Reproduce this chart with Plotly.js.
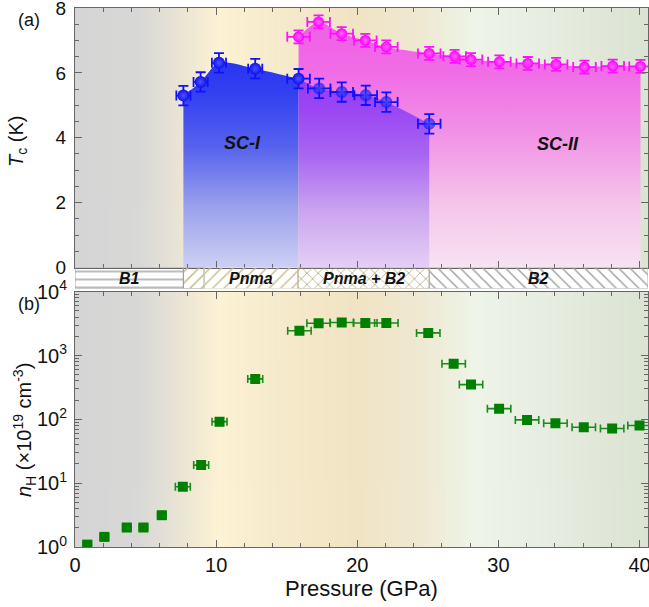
<!DOCTYPE html>
<html><head><meta charset="utf-8">
<script src="https://cdn.plot.ly/plotly-3.0.1.min.js"></script>
<style>html,body{margin:0;padding:0;background:#fff}#chart{width:649px;height:607px}</style>
</head><body><div id="chart"></div>
<script>
// ---- Panel (a): Tc vs pressure ----
const sc1P    = [7.68, 8.9, 10.2, 12.77, 15.84, 17.3, 18.9, 20.6, 22.06, 25.1];
const sc1Tc   = [5.3, 5.72, 6.31, 6.13, 5.82, 5.52, 5.41, 5.31, 5.1, 4.43];
const sc1PErr = [0.5, 0.5, 0.5, 0.5, 0.8, 0.8, 0.8, 0.8, 0.8, 0.8];
const sc1TErr = [0.3, 0.3, 0.3, 0.3, 0.3, 0.3, 0.3, 0.3, 0.3, 0.3];

const sc2P    = [15.84, 17.26, 18.9, 20.57, 22.06, 25.1, 26.9, 28.06, 30.07, 32.08, 34.09, 36.1, 38.1, 40.07];
const sc2Tc   = [7.11, 7.57, 7.21, 7.0, 6.8, 6.6, 6.51, 6.41, 6.34, 6.29, 6.26, 6.18, 6.21, 6.2];
const sc2PErr = [0.8, 0.8, 0.8, 0.8, 0.8, 0.8, 0.8, 0.8, 0.8, 0.8, 0.8, 0.8, 0.8, 0.8];
const sc2TErr = [0.2, 0.2, 0.2, 0.2, 0.2, 0.2, 0.2, 0.2, 0.2, 0.2, 0.2, 0.2, 0.2, 0.2];

// ---- Panel (b): Hall carrier density ----
const nhP    = [0.87, 2.08, 3.67, 4.85, 6.15, 7.64, 8.94, 10.24, 12.77, 15.9, 17.26, 18.9, 20.57, 22.06, 25.03, 26.83, 28.06, 30.05, 32.03, 34.04, 36.05, 38.06, 40.0];
const nhVal  = [1.09, 1.44, 2.02, 2.02, 3.15, 8.8, 19.2, 92, 430, 2450, 3200, 3300, 3230, 3230, 2260, 745, 350, 147, 98, 87, 75, 72, 80];
const nhPErr = [0.3, 0.3, 0.3, 0.3, 0.3, 0.53, 0.53, 0.53, 0.53, 0.83, 0.83, 0.83, 0.83, 0.83, 0.83, 0.83, 0.83, 0.83, 0.83, 0.83, 0.83, 0.83, 0.83];

// ---- Structural phases ----
const phaseNames = ['B1', '', 'Pnma', 'Pnma + B2', 'B2'];
const phaseStart = [0, 7.68, 9.15, 15.8, 25.1];
const phaseEnd   = [7.68, 9.15, 15.8, 25.1, 40.6];

const logTickVals = [1, 10, 100, 1000, 10000];
const logTickText = ['10<sup>0</sup>', '10<sup>1</sup>', '10<sup>2</sup>', '10<sup>3</sup>', '10<sup>4</sup>'];

// ---- geometry helpers ----
const W = 649, H = 607, ML = 75, MR = 1, MT = 8, MB = 60;
const PW = W - ML - MR, PH = H - MT - MB;
const XMAX = 40.6;
const py = p => (H - MB - p) / PH;
const px = p => (p - ML) / PW;
const topDom = [py(267.5), 1];
const stripDom = [py(288.5), py(267.5)];
const botDom = [0, py(291.7)];

const FONT = 'Liberation Sans, Arial, sans-serif';

function bgImage() {
  const c = document.createElement('canvas');
  c.width = 800; c.height = 2;
  const g = c.getContext('2d');
  const lg = g.createLinearGradient(0, 0, 800, 0);
  const stops = [[0, '#d5d5d5'], [4.5, '#d8d8d7'], [7.2, '#e8e3d5'], [10.2, '#fdf2d3'],
                 [14, '#f7ebcd'], [20, '#f1e4c4'], [24.5, '#efe9d3'], [28.5, '#eef5e8'],
                 [34, '#e6ecdf'], [40.6, '#dbe3d3']];
  stops.forEach(s => lg.addColorStop(s[0] / XMAX, s[1]));
  g.fillStyle = lg; g.fillRect(0, 0, 800, 2);
  return c.toDataURL();
}
const bg = bgImage();

const blueN = 5; // points drawn over the plain background
const traces = [
  { // SC-II fill
    x: sc2P, y: sc2Tc, xaxis: 'x', yaxis: 'y', mode: 'lines', fill: 'tozeroy',
    line: { width: 0, shape: 'spline', smoothing: 0.8, color: 'rgba(0,0,0,0)' },
    fillgradient: { type: 'vertical', start: 0, stop: 7.4,
      colorscale: [[0, '#f7e3f1'], [0.27, '#f5c4ea'], [0.55, '#f193e6'], [0.8, '#f06ee6'], [1, '#f060e6']] },
    hoverinfo: 'skip', showlegend: false
  },
  { // SC-I fill (blue part)
    x: sc1P.slice(0, blueN), y: sc1Tc.slice(0, blueN), xaxis: 'x', yaxis: 'y', mode: 'lines', fill: 'tozeroy',
    line: { width: 0, shape: 'spline', smoothing: 0.8, color: 'rgba(0,0,0,0)' },
    fillgradient: { type: 'vertical', start: 0, stop: 6.2,
      colorscale: [[0, '#cdd0f3'], [0.3, '#9ba1ec'], [0.6, '#5662ee'], [0.85, '#3442f0'], [1, '#2a36f0']] },
    hoverinfo: 'skip', showlegend: false
  },
  { // SC-I fill (overlap with SC-II, purple)
    x: sc1P.slice(blueN - 1), y: sc1Tc.slice(blueN - 1), xaxis: 'x', yaxis: 'y', mode: 'lines', fill: 'tozeroy',
    line: { width: 0, shape: 'spline', smoothing: 0.8, color: 'rgba(0,0,0,0)' },
    fillgradient: { type: 'vertical', start: 0, stop: 5.8,
      colorscale: [[0, '#e4cff5'], [0.3, '#cba4ef'], [0.6, '#a865f1'], [0.85, '#9a45f4'], [1, '#963cf5']] },
    hoverinfo: 'skip', showlegend: false
  },
  { // SC-I points
    x: sc1P, y: sc1Tc, xaxis: 'x', yaxis: 'y', mode: 'markers', showlegend: false,
    marker: { symbol: 'circle', size: 12, color: '#1010ee',
      opacity: sc1P.map((p, i) => i < blueN ? 1 : 0.7),
      gradient: { type: 'radial', color: '#4a55ff' } },
    error_x: { type: 'data', array: sc1PErr, color: '#1010ff', thickness: 1.8, width: 5 },
    error_y: { type: 'data', array: sc1TErr, color: '#1010ff', thickness: 1.8, width: 5 }
  },
  { // SC-II points
    x: sc2P, y: sc2Tc, xaxis: 'x', yaxis: 'y', mode: 'markers', showlegend: false,
    marker: { symbol: 'circle', size: 11, color: '#ff00ff', gradient: { type: 'radial', color: '#ff66ff' } },
    error_x: { type: 'data', array: sc2PErr, color: '#ff10ff', thickness: 1.8, width: 5 },
    error_y: { type: 'data', array: sc2TErr, color: '#ff10ff', thickness: 1.8, width: 5 }
  },
  { // phase strip
    type: 'bar', orientation: 'h', xaxis: 'x3', yaxis: 'y3',
    y: phaseStart.map(() => 0.5), base: phaseStart, x: phaseEnd.map((e, i) => e - phaseStart[i]),
    width: 1, showlegend: false, hoverinfo: 'skip',
    marker: {
      color: ['#a0a0a0', '#c2b380', '#c9bd8f', '#b3a67a', '#a0a0a0'],
      line: { color: ['#a0a0a0', '#a0a0a0', '#d6cfb8', '#b9ad86', '#b0b0b0'], width: 1 },
      pattern: {
        shape: ['-', '/', '/', 'x', '\\'],
        bgcolor: '#ffffff', size: 8, solidity: 0.18
      }
    }
  },
  { // n_H points
    x: nhP, y: nhVal, xaxis: 'x2', yaxis: 'y2', mode: 'markers', showlegend: false,
    marker: { symbol: 'square', size: 10, color: '#008000' },
    error_x: { type: 'data', array: nhPErr, color: '#1a8a1a', thickness: 1.6, width: 4 }
  }
];

const axisCommon = {
  showline: true, linecolor: '#666', linewidth: 1, mirror: 'ticks', showgrid: false, zeroline: false,
  ticks: 'inside', tickcolor: '#666', ticklen: 7, tickwidth: 1, ticklabeloverflow: 'allow',
  tickfont: { family: FONT, size: 19, color: '#111' }
};

const ann = (text, x, y, size, extra) => Object.assign({ text, xref: 'paper', yref: 'paper', x: px(x), y: py(y),
  xanchor: 'center', yanchor: 'middle', showarrow: false, font: { family: FONT, size, color: '#111' } }, extra || {});

const annotations = [
  ann('(a)', 29, 20, 18),
  ann('(b)', 29, 304, 18),
  ann('<i>T</i><sub>c</sub> (K)', 17, 142, 20, { textangle: -90 }),
  ann('<i>n</i><sub>H</sub> (×10<sup>19</sup> cm<sup>-3</sup>)', 24, 430, 20, { textangle: -90 }),
  { text: 'SC-I', xref: 'x', yref: 'y', x: 11.9, y: 3.83, showarrow: false, xanchor: 'center', yanchor: 'middle',
    font: { family: FONT, size: 18, color: '#111', weight: 'bold', style: 'italic' } },
  { text: 'SC-II', xref: 'x', yref: 'y', x: 34.2, y: 3.8, showarrow: false, xanchor: 'center', yanchor: 'middle',
    font: { family: FONT, size: 18, color: '#111', weight: 'bold', style: 'italic' } }
];
phaseNames.forEach((n, i) => {
  if (!n) return;
  annotations.push({ text: n, xref: 'x3', yref: 'y3', x: (phaseStart[i] + phaseEnd[i]) / 2, y: 0.5, showarrow: false,
    xanchor: 'center', yanchor: 'middle',
    font: { family: FONT, size: 16, color: '#111', weight: 'bold', style: 'italic' } });
});

const layout = {
  width: W, height: H, margin: { l: ML, r: MR, t: MT, b: MB, pad: 0 },
  paper_bgcolor: '#ffffff', plot_bgcolor: 'rgba(0,0,0,0)',
  font: { family: FONT, color: '#111' },
  xaxis: Object.assign({}, axisCommon, { anchor: 'y', range: [0, XMAX], dtick: 10, showticklabels: false,
    minor: { dtick: 2, ticks: 'inside', ticklen: 4, tickcolor: '#666' } }),
  yaxis: Object.assign({}, axisCommon, { anchor: 'x', domain: topDom, range: [0, 8], dtick: 2,
    ticklabelstandoff: 4, minor: { dtick: 0.5, ticks: 'inside', ticklen: 4, tickcolor: '#666' } }),
  xaxis3: { anchor: 'y3', matches: 'x', range: [0, XMAX], visible: false },
  yaxis3: { anchor: 'x3', domain: stripDom, range: [0, 1], visible: false, fixedrange: true },
  xaxis2: Object.assign({}, axisCommon, { anchor: 'y2', range: [0, XMAX], dtick: 10,
    tickfont: { family: FONT, size: 20, color: '#111' },
    minor: { dtick: 2, ticks: 'inside', ticklen: 4, tickcolor: '#666' },
    title: { text: 'Pressure (GPa)', font: { family: FONT, size: 22, color: '#111' }, standoff: 4 } }),
  yaxis2: Object.assign({}, axisCommon, { anchor: 'x2', domain: botDom, type: 'log', range: [0, 4],
    tickmode: 'array', tickvals: logTickVals, ticktext: logTickText, ticklabelstandoff: 3,
    tickfont: { family: FONT, size: 20, color: '#111' },
    minor: { dtick: 'D1', ticks: 'inside', ticklen: 4, tickcolor: '#666' } }),
  images: [
    { source: bg, xref: 'x', yref: 'paper', x: 0, y: topDom[1], sizex: XMAX, sizey: topDom[1] - topDom[0],
      xanchor: 'left', yanchor: 'top', sizing: 'stretch', layer: 'below' },
    { source: bg, xref: 'x2', yref: 'paper', x: 0, y: botDom[1], sizex: XMAX, sizey: botDom[1] - botDom[0],
      xanchor: 'left', yanchor: 'top', sizing: 'stretch', layer: 'below' }
  ],
  annotations: annotations,
  bargap: 0
};

Plotly.newPlot('chart', traces, layout, { displayModeBar: false, staticPlot: true });
</script></body></html>
